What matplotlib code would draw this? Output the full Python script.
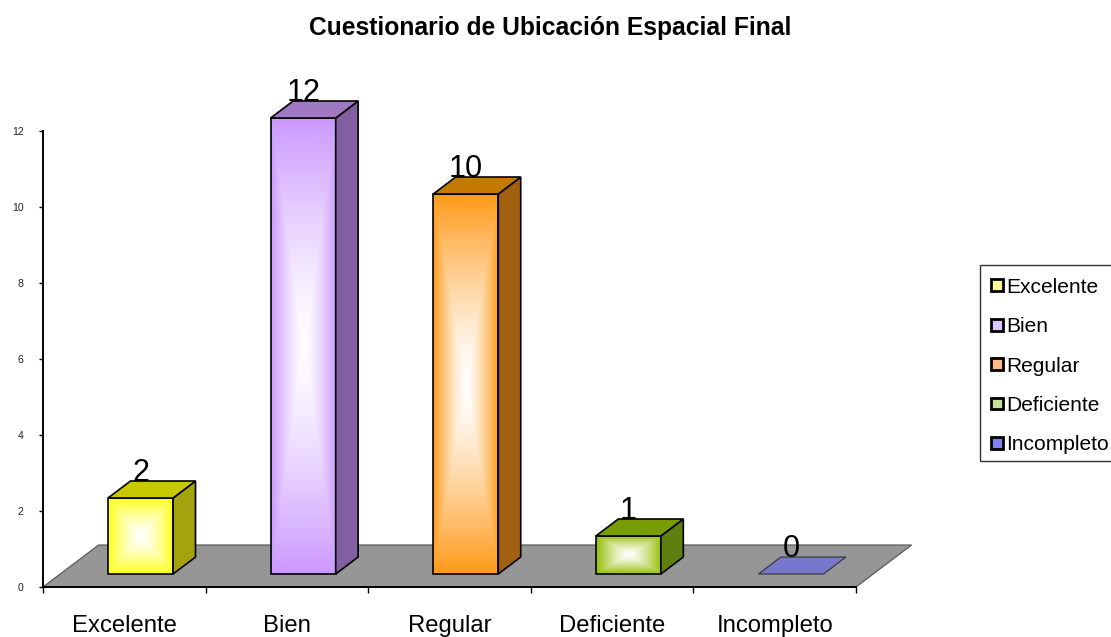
import numpy as np
import matplotlib
matplotlib.use("Agg")
import matplotlib.pyplot as plt
from matplotlib.colors import to_rgb
from matplotlib.patches import Polygon, Patch, Rectangle

categories = ["Excelente", "Bien", "Regular", "Deficiente", "Incompleto"]
values = [2, 12, 10, 1, 0]
front_colors = ["#FFFF1A", "#CC99FF", "#FF9A1A", "#93BE00", "#7777CC"]
top_colors = ["#C8C800", "#A078C4", "#C47A00", "#759C00", "#7777CC"]
side_colors = ["#A3A30E", "#8060A0", "#A06010", "#5F8010", "#7777CC"]
legend_colors = ["#FFFF99", "#DCC6FF", "#FFB98A", "#C4E09A", "#8080F0"]
title = "Cuestionario de Ubicación Espacial Final"

plt.rcParams["font.family"] = ["Liberation Sans", "DejaVu Sans"]
W, H = 1111, 637
fig = plt.figure(figsize=(W / 100, H / 100), dpi=100)
ax = fig.add_axes([43 / W, 1 - 587 / H, 813 / W, 456 / H])

# 3D look, in data units
floor_dx, floor_dy = 0.342, 1.105
shift_x, shift_y = 0.100, 0.342
depth_x, depth_y = 0.138, 0.447
bar_w = 0.40
n = len(categories)

ax.add_patch(Polygon([(0, 0), (n, 0), (n + floor_dx, floor_dy), (floor_dx, floor_dy)],
                     closed=True, fc="#969696", ec="#5a5a5a", lw=0.9, zorder=1, clip_on=False))

ny, nx = 200, 200
for i, (val, fc, tc, sc) in enumerate(zip(values, front_colors, top_colors, side_colors)):
    x0 = i + 0.5 + shift_x - bar_w / 2
    x1 = x0 + bar_w
    y0 = shift_y
    y1 = shift_y + val
    top = [(x0, y1), (x1, y1), (x1 + depth_x, y1 + depth_y), (x0 + depth_x, y1 + depth_y)]
    if val > 0:
        u = np.linspace(-1, 1, nx)[None, :]
        v = np.linspace(-1, 1, ny)[:, None]
        t = np.clip(np.maximum(np.abs(u), np.abs(v)), 0, 1)[..., None] ** 1.35
        rgb = np.array(to_rgb(fc))[None, None, :]
        img = (1 - t) * 1.0 + t * rgb
        ax.imshow(img, extent=(x0, x1, y0, y1), origin="lower", aspect="auto",
                  zorder=3, clip_on=False, interpolation="bilinear")
        ax.add_patch(Polygon([(x0, y0), (x1, y0), (x1, y1), (x0, y1)], closed=True,
                             fc="none", ec="black", lw=1.2, zorder=4, clip_on=False))
        ax.add_patch(Polygon([(x1, y0), (x1 + depth_x, y0 + depth_y),
                              (x1 + depth_x, y1 + depth_y), (x1, y1)], closed=True,
                             fc=sc, ec="black", lw=1.2, zorder=4, clip_on=False))
    ax.add_patch(Polygon(top, closed=True, fc=tc, ec="black" if val else "#333333",
                         lw=1.2 if val else 0.8, zorder=4, clip_on=False))
    ax.text((x0 + x1) / 2, y1 + depth_y, str(val), ha="center", va="baseline",
            fontsize=22, color="black", zorder=3.5, clip_on=False)

ax.set_xlim(0, n)
ax.set_ylim(0, 12)
ax.set_yticks(range(0, 13, 2))
ax.tick_params(axis="y", direction="out", length=3, width=1, labelsize=7.6, pad=11, labelcolor="#222222")
ax.set_xticks(range(n + 1))
ax.set_xticklabels([])
ax.tick_params(axis="x", which="major", direction="out", length=4.5, width=1)
ax.set_xticks(np.arange(n) + 0.5, minor=True)
ax.set_xticklabels(categories, minor=True, fontsize=17.2)
ax.tick_params(axis="x", which="minor", length=0, pad=20.5)
for s in ("top", "right"):
    ax.spines[s].set_visible(False)
for s in ("left", "bottom"):
    ax.spines[s].set_linewidth(1.4)
    ax.spines[s].set_zorder(2)
ax.patch.set_visible(False)

fig.text(550.5 / W, 1 - 28.5 / H, title, ha="center", va="center", fontsize=17.7, fontweight="bold")

# legend box runs past the right edge of the picture, as in the original
fig.add_artist(Rectangle((980 / W, 1 - 461 / H), 140 / W, 196 / H, transform=fig.transFigure,
                         fc="white", ec="#333333", lw=1, zorder=1))
handles = [Patch(fc=c, ec="black", lw=2) for c in legend_colors]
leg = fig.legend(handles, categories, loc="upper left",
                 bbox_to_anchor=(980 / W, 1 - 267 / H), bbox_transform=fig.transFigure,
                 fontsize=15.1, frameon=False, borderpad=0.52, borderaxespad=0,
                 handlelength=0.6, handleheight=0.5, handletextpad=0.14,
                 labelspacing=0.97)
leg.set_zorder(2)

fig.savefig("out.png", dpi=100)
